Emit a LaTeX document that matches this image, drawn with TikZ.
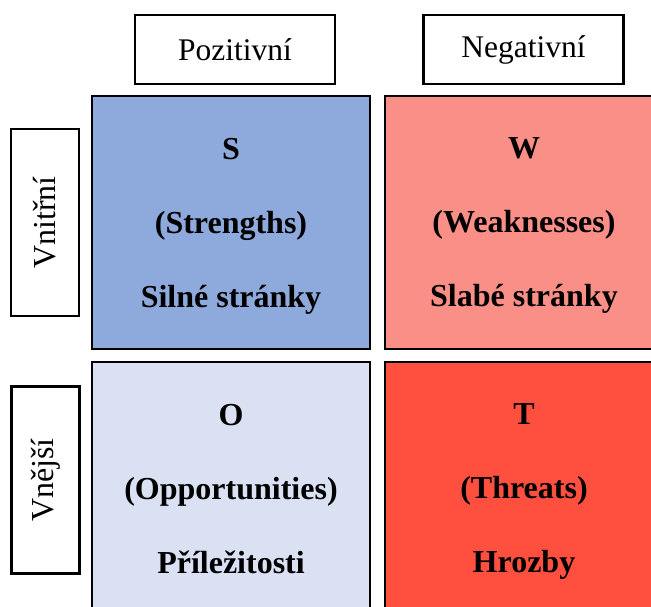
\documentclass[tikz,border=0pt]{standalone}
\usepackage{fontspec}
\setmainfont{Liberation Serif}
\definecolor{sblue}{HTML}{8EA9DB}
\definecolor{oblue}{HTML}{D9E1F2}
\definecolor{wred}{HTML}{F98F86}
\definecolor{tred}{HTML}{FF4F3F}
\tikzset{
	headbox/.style={draw,line width=2.6pt,fill=white,minimum width=200pt,minimum height=69pt,inner sep=0pt,font=\fontsize{31.5}{36}\selectfont},
	sidebox/.style={draw,line width=2.6pt,fill=white,minimum width=68pt,minimum height=187pt,inner sep=0pt,font=\fontsize{32}{36}\selectfont},
	quadbox/.style={draw,line width=2.6pt,minimum width=278pt,minimum height=253pt,inner sep=0pt,text depth=0pt,align=center,font=\bfseries\fontsize{32}{74}\selectfont}
}
\begin{document}
\begin{tikzpicture}[x=1pt,y=-1pt]
		\clip (0,0) rectangle (651,607);
		\fill[white] (0,0) rectangle (651,607);
		
		\node[headbox] (Poz) at (235,49.5) {Pozitivní};
		\node[headbox] (Neg) at (523.5,49.5) {Negativní};
		
		\node[sidebox] (Vni) at (45,222.5) {\rotatebox{90}{Vnitřní}};
		\node[sidebox] (Vne) at (45.5,480) {\rotatebox{90}{Vnější}};
		
		\node[quadbox,fill=sblue] (S) at (231,222.5) {S\\(Strengths)\\Silné stránky};
		\node[quadbox,fill=wred] (W) at (524,222.5) {W\\(Weaknesses)\\Slabé stránky};
		\node[quadbox,fill=oblue] (O) at (231,488.5) {O\\(Opportunities)\\Příležitosti};
		\node[quadbox,fill=tred] (T) at (524,488.5) {T\\(Threats)\\Hrozby};
		\end{tikzpicture}
\end{document}
